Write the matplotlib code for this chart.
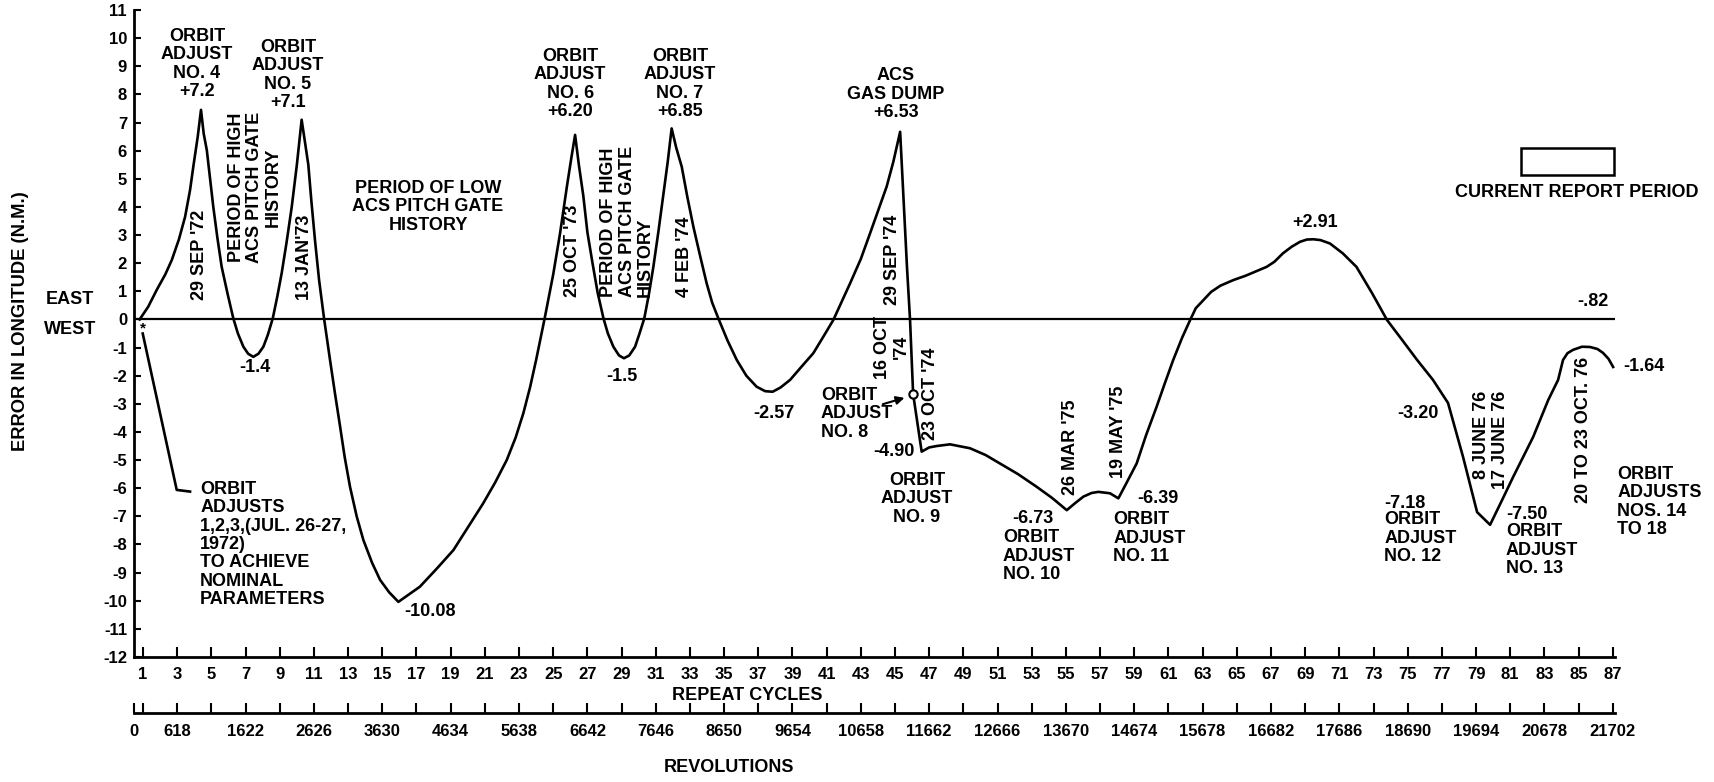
import matplotlib.pyplot as plt
from matplotlib.patches import Rectangle

plt.rcParams['font.family'] = ['Liberation Sans', 'DejaVu Sans']
plt.rcParams['font.weight'] = 'bold'
plt.rcParams['axes.unicode_minus'] = False

# Longitude error history (repeat cycle, error in N.M.)
cycles = [0.8, 1.3, 1.8, 2.3, 2.68, 3.1, 3.46, 3.75, 3.94, 4.2, 4.39,
          4.55, 4.73, 5.11, 5.35, 5.6, 5.95, 6.28, 6.55, 6.87, 7.15, 7.45,
          7.75, 8.04, 8.3, 8.59, 8.85, 9.11, 9.4, 9.7, 10.0, 10.28,
          10.45, 10.67, 10.85, 11.06, 11.3, 11.59, 11.94, 12.23, 12.53, 12.8,
          13.11, 13.5, 13.89, 14.4, 14.87, 15.4, 15.94, 16.5, 17.2, 18.2,
          19.16, 20.0, 20.9, 21.6, 22.28, 22.8, 23.25, 23.65, 24.0, 24.5,
          25.0, 25.4, 25.8, 26.05, 26.28,
          26.5, 26.76, 27.0, 27.3, 27.6, 27.94, 28.2, 28.52, 28.85, 29.14,
          29.45, 29.79, 30.05, 30.33, 30.6, 30.86, 31.15, 31.45, 31.7, 31.93,
          32.2, 32.52, 32.85, 33.2, 33.6, 33.98, 34.3, 34.66, 35.2, 35.74,
          36.3, 36.9, 37.4, 37.84, 38.3, 38.86, 39.5, 40.22, 40.8, 41.39,
          42.37, 43.0, 43.54, 44.0, 44.51, 44.9, 45.3,
          45.5, 45.7, 45.88, 46.06, 46.56, 47.0, 47.44, 48.22, 49.39, 50.3,
          51.14, 52.2, 53.29, 54.2, 55.05, 55.5, 56.02, 56.5, 56.9, 57.58,
          58.07, 58.6, 59.14, 59.7, 60.31, 60.8, 61.28, 61.8, 62.27, 62.6,
          63.05, 63.5, 64.04, 64.8, 65.5, 66.75, 67.2, 67.7, 68.2, 68.7,
          69.1, 69.48, 69.9, 70.45, 71.2, 72.0, 72.9, 73.79, 74.7, 75.55,
          76.48, 77.36, 78.24, 79.06, 79.82, 80.5, 81.17, 82.34, 83.22, 83.8,
          84.09, 84.35, 84.68, 85.2, 85.67, 86.1, 86.43, 86.75, 87.02]
error_nm = [0.0, 0.45, 1.05, 1.6, 2.11, 2.85, 3.65, 4.6, 5.43, 6.5, 7.45,
            6.6, 6.02, 4.0, 2.9, 1.87, 0.9, 0.04, -0.5, -0.97, -1.22, -1.33,
            -1.22, -0.97, -0.55, 0.04, 0.8, 1.64, 2.75, 4.0, 5.5, 7.1,
            6.4, 5.5, 4.2, 2.82, 1.4, 0.04, -1.44, -2.63, -3.81, -4.9,
            -5.95, -7.0, -7.84, -8.65, -9.26, -9.7, -10.04, -9.8, -9.5, -8.85,
            -8.2, -7.4, -6.54, -5.8, -5.0, -4.2, -3.34, -2.4, -1.44, 0.04,
            1.6, 3.06, 4.72, 5.7, 6.56,
            5.5, 4.4, 3.1, 2.0, 0.95, 0.04, -0.5, -0.97, -1.28, -1.38,
            -1.28, -0.97, -0.5, 0.04, 0.9, 1.87, 3.1, 4.48, 5.6, 6.79,
            6.1, 5.43, 4.35, 3.3, 2.25, 1.28, 0.6, 0.04, -0.75, -1.44,
            -2.0, -2.39, -2.55, -2.57, -2.42, -2.15, -1.7, -1.2, -0.62, -0.02,
            1.28, 2.15, 3.06, 3.85, 4.72, 5.6, 6.67,
            4.24, 1.87, -0.02, -2.65, -4.7, -4.55, -4.5, -4.44, -4.58, -4.82,
            -5.12, -5.5, -5.95, -6.35, -6.78, -6.55, -6.3, -6.17, -6.13, -6.18,
            -6.36, -5.75, -5.12, -4.1, -3.1, -2.25, -1.44, -0.65, -0.02, 0.4,
            0.69, 0.98, 1.2, 1.4, 1.55, 1.87, 2.05, 2.35, 2.58, 2.76,
            2.84, 2.85, 2.82, 2.7, 2.35, 1.87, 0.95, -0.02, -0.75, -1.44,
            -2.15, -2.97, -4.89, -6.85, -7.3, -6.45, -5.6, -4.18, -2.87, -2.15,
            -1.44, -1.2, -1.08, -0.97, -0.98, -1.05, -1.19, -1.4, -1.69]

# orbit adjusts 1,2,3 (Jul 1972)
init_cycles = [0.98, 2.97, 3.75]
init_error = [-0.5, -6.06, -6.12]

# orbit adjust no. 8 point
adj8_cycle = [46.06]
adj8_error = [-2.65]

cycle_ticks = list(range(1, 88, 2))
error_ticks = list(range(-12, 12))
rev_cycles = list(range(3, 88, 4))
rev_labels = ["618", "1622", "2626", "3630", "4634", "5638", "6642", "7646",
              "8650", "9654", "10658", "11662", "12666", "13670", "14674",
              "15678", "16682", "17686", "18690", "19694", "20678", "21702"]

W, H = 1714, 782
x0, x1 = 0.47, 87.13
left, right = 134 / W, 1615 / W

fig = plt.figure(figsize=(W / 100, H / 100), dpi=100)
ax = fig.add_axes([left, 1 - 657 / H, right - left, (657 - 10) / H])

ax.plot(cycles, error_nm, color='k', lw=1.9, solid_joinstyle='round')
ax.plot(init_cycles, init_error, color='k', lw=1.9)
ax.plot(adj8_cycle, adj8_error, 'o', mfc='white', mec='k', ms=6, mew=1.5)
ax.axhline(0, color='k', lw=1.6)

ax.set_xlim(x0, x1)
ax.set_ylim(-12, 11)
for s in ['top', 'right']:
    ax.spines[s].set_visible(False)
ax.spines['left'].set_linewidth(2)
ax.spines['bottom'].set_linewidth(2)
ax.set_xticks(cycle_ticks)
ax.set_xticklabels([str(c) for c in cycle_ticks])
ax.tick_params(axis='x', direction='in', length=7, width=1.5, pad=7, labelsize=12)
ax.set_yticks(error_ticks)
ax.set_yticklabels([str(v) for v in error_ticks])
ax.tick_params(axis='y', direction='in', length=5, width=1.5, pad=5, labelsize=12)

# revolutions scale under the repeat cycles
ax_rev = fig.add_axes([left, 1 - 713 / H, right - left, 0.0001])
ax_rev.patch.set_visible(False)
for s in ['top', 'right', 'left']:
    ax_rev.spines[s].set_visible(False)
ax_rev.spines['bottom'].set_linewidth(2)
ax_rev.set_xlim(x0, x1)
ax_rev.set_yticks([])
ax_rev.set_xticks([x0] + rev_cycles)
ax_rev.set_xticklabels(["0"] + rev_labels)
ax_rev.set_xticks(cycle_ticks, minor=True)
ax_rev.tick_params(axis='x', which='both', direction='in', length=7, width=1.5)
ax_rev.tick_params(axis='x', which='major', pad=8, labelsize=12)

fig.text(747 / W, 1 - 695 / H, "REPEAT CYCLES", ha='center', va='center', fontsize=13)
fig.text(729 / W, 1 - 768 / H, "REVOLUTIONS", ha='center', va='center', fontsize=13)
fig.text(21 / W, 1 - 321 / H, "ERROR IN LONGITUDE (N.M.)", rotation=90,
         ha='center', va='center', fontsize=13.2)
fig.text(70 / W, 1 - 300 / H, "EAST", ha='center', va='center', fontsize=13)
fig.text(70 / W, 1 - 329 / H, "WEST", ha='center', va='center', fontsize=13)

fs = 13
ls = 1.1

def note(x, y, s, ha='center', va='center', rot=0, ma=None, size=fs):
    ax.text(x, y, s, ha=ha, va=va, rotation=rot, multialignment=ma,
            fontsize=size, linespacing=ls)

note(4.16, 9.08, "ORBIT\nADJUST\nNO. 4\n+7.2")
note(9.48, 8.69, "ORBIT\nADJUST\nNO. 5\n+7.1")
note(25.99, 8.37, "ORBIT\nADJUST\nNO. 6\n+6.20")
note(32.42, 8.37, "ORBIT\nADJUST\nNO. 7\n+6.85")
note(45.06, 8.01, "ACS\nGAS DUMP\n+6.53")

note(4.28, 0.69, "29 SEP '72", va='bottom', rot=90)
note(7.55, 4.70, "PERIOD OF HIGH\nACS PITCH GATE\nHISTORY", rot=90, ma='center')
note(10.42, 0.69, "13 JAN'73", va='bottom', rot=90)
note(17.68, 4.0, "PERIOD OF LOW\nACS PITCH GATE\nHISTORY")
note(26.1, 0.8, "25 OCT '73", va='bottom', rot=90)
note(29.32, 0.8, "PERIOD OF HIGH\nACS PITCH GATE\nHISTORY", va='bottom', rot=90, ma='left')
note(32.71, 0.8, "4 FEB '74", va='bottom', rot=90)
note(44.83, 0.51, "29 SEP '74", va='bottom', rot=90)
note(44.83, -0.98, "16 OCT\n'74", rot=90, ma='center')
note(47.05, -4.29, "23 OCT '74", va='bottom', rot=90)
note(55.24, -6.24, "26 MAR '75", va='bottom', rot=90)
note(58.05, -5.64, "19 MAY '75", va='bottom', rot=90)
note(79.88, -2.55, "8 JUNE 76\n17 JUNE 76", va='top', rot=90, ma='right')
note(85.26, -6.53, "20 TO 23 OCT. 76", va='bottom', rot=90)

note(1.0, -0.31, "*", size=11)
note(7.55, -1.72, "-1.4")
note(4.34, -8.0, "ORBIT\nADJUSTS\n1,2,3,(JUL. 26-27,\n1972)\nTO ACHIEVE\nNOMINAL\nPARAMETERS",
     ha='left')
note(16.27, -10.4, "-10.08", ha='left')
note(29.03, -2.04, "-1.5")
note(37.92, -3.36, "-2.57")
note(40.67, -3.36, "ORBIT\nADJUST\nNO. 8", ha='left')
ax.annotate('', xy=(45.71, -2.76), xytext=(44.13, -3.04),
            arrowprops=dict(arrowstyle='-|>', color='k', lw=1.5, mutation_scale=12))
note(46.17, -4.71, "-4.90", ha='right')
note(46.29, -6.38, "ORBIT\nADJUST\nNO. 9")
note(53.08, -7.09, "-6.73")
note(51.32, -8.41, "ORBIT\nADJUST\nNO. 10", ha='left')
note(59.16, -6.38, "-6.39", ha='left')
note(57.76, -7.77, "ORBIT\nADJUST\nNO. 11", ha='left')
note(69.58, 3.43, "+2.91")
note(75.6, -3.33, "-3.20")
note(73.62, -6.56, "-7.18", ha='left')
note(73.62, -7.77, "ORBIT\nADJUST\nNO. 12", ha='left')
note(80.75, -6.92, "-7.50", ha='left')
note(80.75, -8.2, "ORBIT\nADJUST\nNO. 13", ha='left')
note(87.25, -6.49, "ORBIT\nADJUSTS\nNOS. 14\nTO 18", ha='left')
note(85.84, 0.62, "-.82")
note(87.6, -1.69, "-1.64", ha='left')

ax.add_patch(Rectangle((81.63, 5.13), 87.07 - 81.63, 6.09 - 5.13,
                       fill=False, lw=1.8, ec='k', clip_on=False))
note(84.91, 4.53, "CURRENT REPORT PERIOD")

fig.savefig("out.png", dpi=100)
